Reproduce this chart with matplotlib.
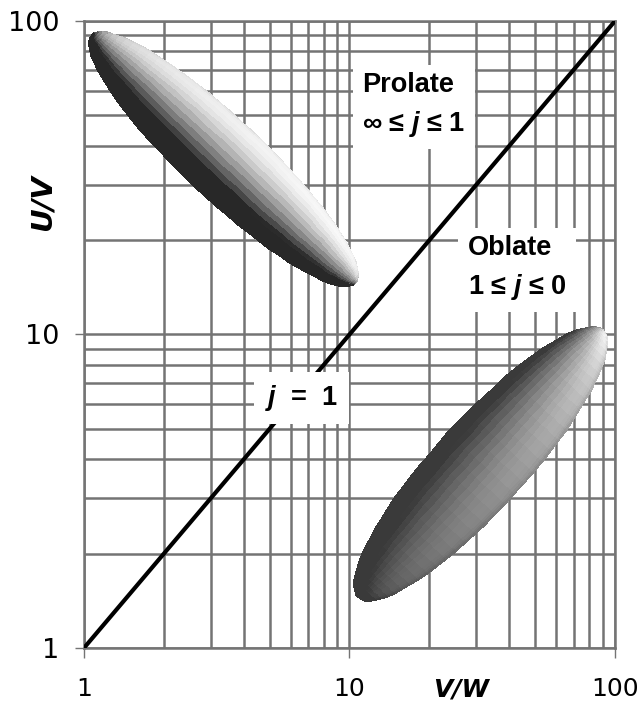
import numpy as np
import matplotlib
matplotlib.use('Agg')
import matplotlib.pyplot as plt

# axis ticks
tick_values = [1, 10, 100]
tick_labels = ['1', '10', '100']

# the j = 1 line
diag_x = [1, 100]
diag_y = [1, 100]

# ellipsoid tips (V/W, U/V) and minor/major axis ratios
prolate_x = [1.07, 10.5]
prolate_y = [90.0, 14.6]
prolate_ratio = 0.22
oblate_x = [10.8, 90.0]
oblate_y = [1.45, 10.3]
oblate_ratio = 0.25

plt.rcParams['mathtext.fontset'] = 'custom'
plt.rcParams['mathtext.it'] = 'Liberation Sans:italic:bold'
plt.rcParams['mathtext.rm'] = 'Liberation Sans:bold'
plt.rcParams['mathtext.bf'] = 'Liberation Sans:bold'

GRID = '#747474'


def draw_ellipsoid(ax, xs, ys, ratio, light, lo, hi, axial=0.0, gamma=1.0,
                   n1=40, n2=20):
    # build a shaded half-ellipsoid in display space, then map back to data
    t = ax.transData
    p0, p1 = t.transform(np.column_stack([xs, ys]))
    c = (p0 + p1) / 2
    d = p1 - p0
    a = np.hypot(*d) / 2
    b = a * ratio
    e1 = d / (2 * a)
    e2 = np.array([-e1[1], e1[0]])

    th = np.linspace(0, np.pi, n1 + 1)
    ph = np.linspace(0, np.pi, n2 + 1)
    TH, PH = np.meshgrid(th, ph, indexing='ij')
    u = a * np.cos(TH)
    v = b * np.sin(TH) * np.cos(PH)
    px = c[0] + u * e1[0] + v * e2[0]
    py = c[1] + u * e1[1] + v * e2[1]

    thc = (th[:-1] + th[1:]) / 2
    phc = (ph[:-1] + ph[1:]) / 2
    TC, PC = np.meshgrid(thc, phc, indexing='ij')
    n = np.stack([np.cos(TC) / a,
                  np.sin(TC) * np.cos(PC) / b,
                  np.sin(TC) * np.sin(PC) / b])
    n /= np.linalg.norm(n, axis=0)
    L = np.asarray(light, float)
    L /= np.linalg.norm(L)
    lam = np.clip(np.tensordot(L, n, axes=1), 0, 1)
    if axial:
        # a bit lighter toward the p1 tip
        lam = lam * ((1 - axial) + axial * (1 + np.cos(TC)) / 2)
    shade = lo + (hi - lo) * lam ** gamma

    pts = t.inverted().transform(np.column_stack([px.ravel(), py.ravel()]))
    X = pts[:, 0].reshape(px.shape)
    Y = pts[:, 1].reshape(py.shape)
    ax.pcolormesh(X, Y, shade, cmap='gray', vmin=0, vmax=1, shading='flat',
                  edgecolors='face', linewidth=0.3, zorder=3)


fig = plt.figure(figsize=(6.44, 7.06), dpi=100)
ax = fig.add_axes([0.1304, 0.0822, 0.8246, 0.8881])
ax.set_xscale('log')
ax.set_yscale('log')
ax.set_xlim(1, 100)
ax.set_ylim(1, 100)

ax.grid(True, which='both', color=GRID, linewidth=1.8, zorder=0)
ax.set_axisbelow(True)
for s in ax.spines.values():
    s.set_color(GRID)
    s.set_linewidth(1.8)

ax.set_xticks(tick_values)
ax.set_xticklabels(tick_labels)
ax.set_yticks(tick_values)
ax.set_yticklabels(tick_labels)
ax.tick_params(which='minor', length=0)
ax.tick_params(axis='x', which='major', length=7, width=1, color=GRID,
               labelsize=18, pad=14)
ax.tick_params(axis='y', which='major', length=6.5, width=1, color=GRID,
               labelsize=19.5, pad=11)

ax.plot(diag_x, diag_y, color='black', linewidth=3, zorder=4,
        solid_capstyle='butt')

draw_ellipsoid(ax, prolate_x, prolate_y, prolate_ratio,
               light=(0.25, 0.85, 0.5), lo=0.16, hi=0.97)
draw_ellipsoid(ax, oblate_x, oblate_y, oblate_ratio,
               light=(0.7, -0.45, 0.4), lo=0.23, hi=0.95, axial=0.4,
               gamma=1.1)

lab = dict(family=['Liberation Sans', 'DejaVu Sans'], weight='bold',
           fontsize=19.5, zorder=5)
box = dict(facecolor='white', edgecolor='none', boxstyle='square,pad=0.35')
ax.text(17.5, 53.6, 'Prolate\n\u221e \u2264 $j$ \u2264 1', ha='center', va='center',
        multialignment='left', linespacing=1.5, bbox=box, **lab)
ax.text(42.8, 16.2, 'Oblate\n1 \u2264 $j$ \u2264 0', ha='center', va='center',
        multialignment='left', linespacing=1.5, bbox=box, **lab)
ax.text(6.6, 6.27, '$j$  =  1', ha='center', va='center',
        bbox=dict(facecolor='white', edgecolor='none',
                  boxstyle='square,pad=0.4'), **lab)

ax.set_xlabel('V/W', fontsize=18, fontweight='bold', fontstyle='italic')
ax.xaxis.set_label_coords(0.71, -0.067)
ax.xaxis.label.set_va('center')
ax.set_ylabel('U/V', fontsize=21, fontweight='bold', fontstyle='italic')
ax.yaxis.set_label_coords(-0.079, 0.71)
ax.yaxis.label.set_va('center')

fig.savefig('out.png', dpi=100)
